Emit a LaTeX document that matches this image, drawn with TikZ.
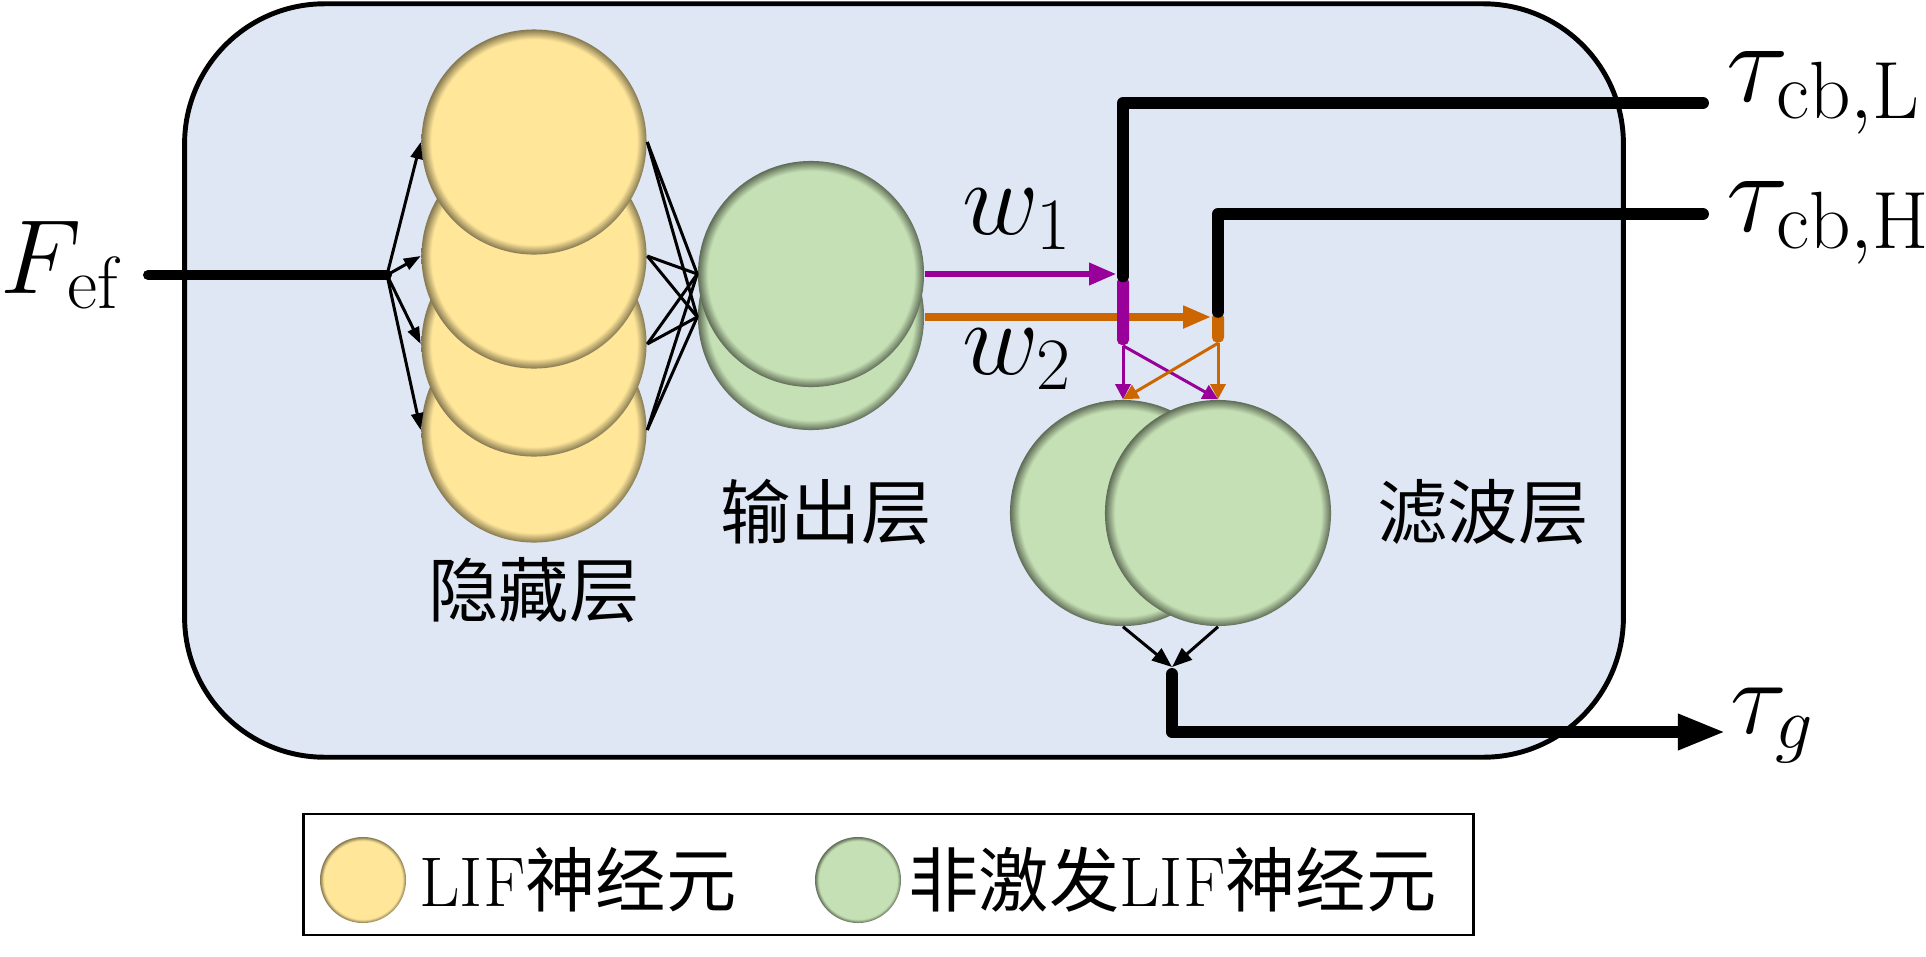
\RequirePackage{fix-cm}
\documentclass[tikz,border=0pt]{standalone}
\usepackage{fontspec}
\newfontfamily\cjk{Noto Sans CJK SC}
\usepackage{tikz}
\usetikzlibrary{shapes,arrows,arrows.meta,positioning,calc}

\definecolor{boxblue}{HTML}{DFE7F4}
\definecolor{hidfill}{HTML}{FFE699}
\definecolor{outfill}{HTML}{C5E0B4}
\definecolor{wpurple}{HTML}{990099}
\definecolor{worange}{HTML}{CC6600}
\colorlet{hidedge}{hidfill!52!black}
\colorlet{outedge}{outfill!48!black}

\pgfdeclareradialshading{hidball}{\pgfpoint{0bp}{0bp}}{color(0bp)=(hidfill); color(22.8bp)=(hidfill); color(25bp)=(hidedge); color(50bp)=(hidedge)}
\pgfdeclareradialshading{outball}{\pgfpoint{0bp}{0bp}}{color(0bp)=(outfill); color(22.8bp)=(outfill); color(25bp)=(outedge); color(50bp)=(outedge)}

\begin{document}
\begin{tikzpicture}[x=0.01cm, y=-0.01cm,
    hidcell/.style={circle, minimum size=2.25cm, inner sep=0pt, shading=hidball},
    outcell/.style={circle, minimum size=2.26cm, inner sep=0pt, shading=outball},
    biglabel/.style={inner sep=0pt, font=\fontsize{30}{36}\selectfont},
    taulabel/.style={inner sep=0pt, font=\fontsize{33}{40}\selectfont},
    layerlabel/.style={inner sep=0pt, font=\fontsize{20}{24}\selectfont\cjk},
    thinline/.style={line width=0.85pt},
    thinarr/.style={line width=0.85pt, -{Triangle[length=4.8pt, width=3.4pt]}},
    mergearr/.style={line width=0.85pt, -{Triangle[length=5.7pt, width=4.3pt]}},
    ctrlline/.style={line width=3.4pt, line cap=round, line join=round}]
    \useasboundingbox (0,0) rectangle (1926,957);

    % Cadre
    \node[draw, line width=1.4pt, fill=boxblue, rounded corners=1.4cm, minimum width=14.38cm, minimum height=7.53cm] (frame) at (904,380.5) {};

    % Entrée
    \node[biglabel, anchor=base east] (fef) at (120,293) {$F_{\mathrm{ef}}$};
    \coordinate (split) at (387,275);
    \draw[line width=2.85pt, line cap=round] ($(fef.east |- split)+(28,0)$) -- (split);

    % Couche cachée
    \foreach \i/\y in {4/430, 3/344, 2/256, 1/142}
        \node[hidcell] (h\i) at (534,\y) {};
    \foreach \i in {1,...,4}
        \draw[thinarr] (split) -- (h\i.west);
    \node[layerlabel] (hidlab) at (534,590) {隐藏层};

    % Couche de sortie
    \node[outcell] (o2) at (811,317) {};
    \node[outcell] (o1) at (811,274) {};
    \foreach \i in {1,...,4} {
        \draw[thinline] (h\i.east) -- (o1.west);
        \draw[thinline] (h\i.east) -- (o2.west);
    }
    \node[layerlabel] (outlab) at (826,512) {输出层};

    % Poids w1, w2
    \node[fill=worange, rounded corners=0.05cm, minimum width=0.12cm, minimum height=0.30cm, inner sep=0pt] (barH) at (1218,327.5) {};
    \draw[line width=2pt, worange, -{Triangle[length=8pt, width=6pt]}] (o2.east) -- (o2.east -| barH.west);
    \node[fill=wpurple, rounded corners=0.05cm, minimum width=0.12cm, minimum height=0.68cm, inner sep=0pt] (barL) at (1123,311) {};
    \draw[line width=1.7pt, wpurple, -{Triangle[length=7.7pt, width=6pt]}] (o1.east) -- (o1.east -| barL.west);
    \node[biglabel, anchor=base west] (w1) at (962,234) {$w_1$};
    \node[biglabel, anchor=base west] (w2) at (962,374) {$w_2$};

    % Sorties de commande
    \coordinate (endL) at (1703,103);
    \coordinate (endH) at (1703,214);
    \draw[ctrlline] (barL.north) |- (endL);
    \draw[ctrlline] (barH.north) |- (endH);
    \node[taulabel, anchor=base west] (tauL) at (1726,101) {$\tau_{\mathrm{cb,L}}$};
    \node[taulabel, anchor=base west] (tauH) at (1726,231) {$\tau_{\mathrm{cb,H}}$};

    % Couche de filtrage
    \node[outcell] (f1) at (1123,513) {};
    \node[outcell] (f2) at (1218,513) {};
    \draw[line width=0.85pt, wpurple, -{Triangle[length=4.3pt, width=4.3pt]}] (barL.south) -- (f1.north);
    \draw[line width=0.85pt, wpurple, -{Triangle[length=4.3pt, width=4.3pt]}] (barL.south) -- (f2.north);
    \draw[line width=0.85pt, worange, -{Triangle[length=4.3pt, width=4.3pt]}] (barH.south) -- (f1.north);
    \draw[line width=0.85pt, worange, -{Triangle[length=4.3pt, width=4.3pt]}] (barH.south) -- (f2.north);
    \node[layerlabel] (fltlab) at (1483,512) {滤波层};

    % Sortie
    \coordinate (merge) at (1172,667);
    \draw[mergearr] (f1.south) -- (merge);
    \draw[mergearr] (f2.south) -- (merge);
    \coordinate (outend) at (1726,732);
    \draw[ctrlline, -{Triangle[length=13.7pt, width=9.4pt]}] ($(merge)+(0,7)$) |- (outend);
    \node[biglabel, anchor=base west] (taug) at (1730,733) {$\tau_g$};

    % Légende
    \node[draw, line width=0.8pt, minimum width=11.69cm, minimum height=1.21cm, inner sep=0pt] (legend) at (888.5,874.5) {};
    \node[circle, minimum size=0.86cm, inner sep=0pt, shading=hidball] (legH) at (363,880) {};
    \node[right=0.12cm of legH, inner sep=0pt, font=\fontsize{20}{24}\selectfont] (legHtxt) {LIF{\cjk 神经元}};
    \node[circle, minimum size=0.86cm, inner sep=0pt, shading=outball] (legO) at (858,880) {};
    \node[right=0.06cm of legO, inner sep=0pt, font=\fontsize{20}{24}\selectfont] (legOtxt) {{\cjk 非激发}LIF{\cjk 神经元}};
\end{tikzpicture}
\end{document}
